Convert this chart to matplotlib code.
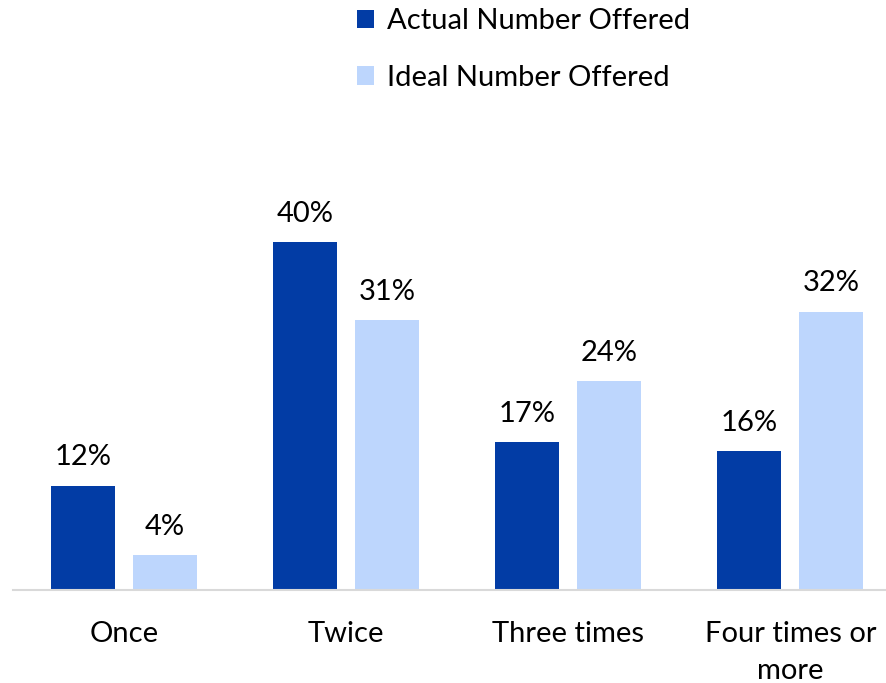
import matplotlib
matplotlib.use("Agg")
import matplotlib.pyplot as plt
import numpy as np

categories = ["Once", "Twice", "Three times", "Four times or\nmore"]
actual = [12, 40, 17, 16]
ideal = [4, 31, 24, 32]
series_names = ["Actual Number Offered", "Ideal Number Offered"]
colors = ["#023CA5", "#BDD6FD"]

plt.rcParams['font.family'] = ['Lato', 'DejaVu Sans']

W, H = 887, 683
fig = plt.figure(figsize=(W/100, H/100), dpi=100)
ax = fig.add_axes([13/W, (H-590)/H, 1-13/W, (590-100)/H])

x = np.arange(len(categories))
bw = 64/222
off = 82/2/222
b1 = ax.bar(x-off, actual, bw, color=colors[0], label=series_names[0])
b2 = ax.bar(x+off, ideal, bw, color=colors[1], label=series_names[1])

for bars, vals in ((b1, actual), (b2, ideal)):
    for r, v in zip(bars, vals):
        ax.annotate(f"{v}%", (r.get_x()+r.get_width()/2, v), xytext=(0, 11),
                    textcoords="offset points", ha="center", va="bottom", fontsize=21)

ax.set_xlim(-0.5, 3.5 - 14.5/222)
ax.set_ylim(0, 490/8.7)
ax.set_xticks(x)
ax.set_xticklabels(categories, fontsize=21, linespacing=1.55)
ax.tick_params(axis='x', length=0, pad=22)
ax.set_yticks([])
for s in ["top", "right", "left"]:
    ax.spines[s].set_visible(False)
ax.spines["bottom"].set_color("#D9D9D9")
ax.spines["bottom"].set_linewidth(1.5)

fig.legend(handles=[b1, b2], loc="upper left", bbox_to_anchor=(345/W, 1.005), frameon=False,
           fontsize=21, handlelength=0.6, handleheight=0.6, handletextpad=0.45,
           labelspacing=1.05, borderaxespad=0.0)

fig.savefig("out.png", dpi=100)
